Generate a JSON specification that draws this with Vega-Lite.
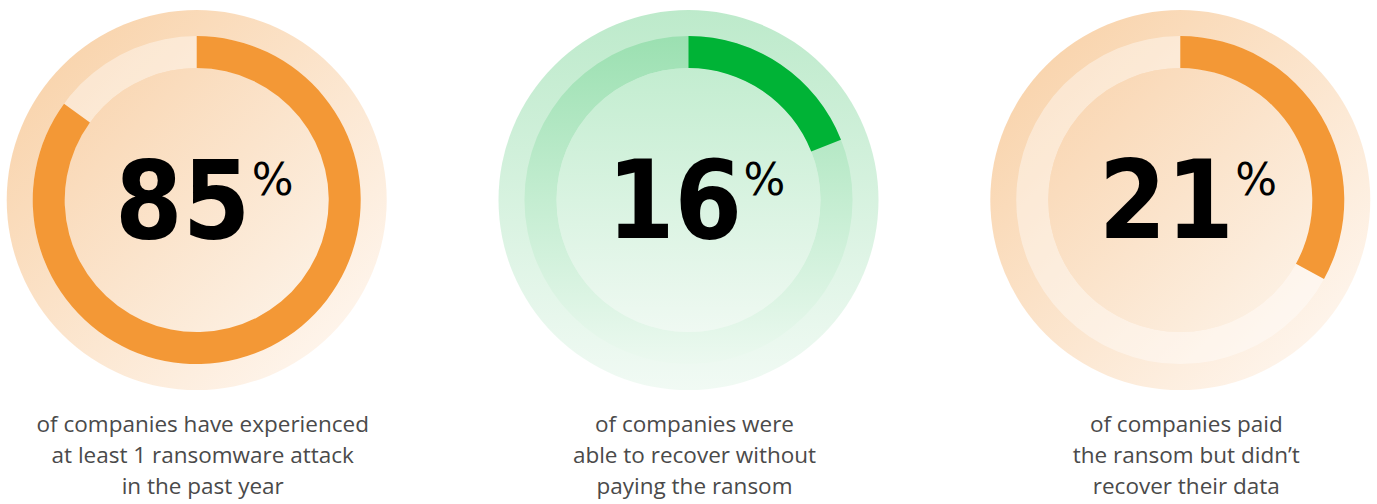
{
  "$schema": "https://vega.github.io/schema/vega-lite/v6.json",
  "autosize": {"type": "fit", "contains": "padding"},
  "width": 1377,
  "height": 504,
  "padding": 0,
  "background": "white",
  "config": {"view": {"stroke": null}},
  "data": {
    "values": [
      {"g": "a", "value": 85, "arcShown": 85, "palette": "orange", "caption": "of companies have experienced\nat least 1 ransomware attack\nin the past year"},
      {"g": "b", "value": 16, "arcShown": 19, "palette": "green", "caption": "of companies were\nable to recover without\npaying the ransom"},
      {"g": "c", "value": 21, "arcShown": 33, "palette": "orange", "caption": "of companies paid\nthe ransom but didn’t\nrecover their data"}
    ]
  },
  "encoding": {
    "x": {"field": "g", "type": "nominal", "scale": {"type": "point", "domain": ["a", "b", "c"], "padding": 0.4}, "axis": null},
    "y": {"datum": 39.7, "type": "quantitative", "scale": {"domain": [0, 100], "reverse": true, "nice": false, "zero": false}, "axis": null}
  },
  "layer": [
    {
      "transform": [{"filter": "datum.palette === 'orange'"}],
      "mark": {"type": "arc", "innerRadius": 0, "outerRadius": 190, "theta": 0, "theta2": 6.2832,
        "fill": {"gradient": "linear", "x1": 0, "y1": 0, "x2": 1, "y2": 1,
          "stops": [{"offset": 0, "color": "#f8cfa3"}, {"offset": 1, "color": "#fffaf6"}]}}
    },
    {
      "transform": [{"filter": "datum.palette === 'green'"}],
      "mark": {"type": "arc", "innerRadius": 0, "outerRadius": 190, "theta": 0, "theta2": 6.2832,
        "fill": {"gradient": "linear", "x1": 0, "y1": 0, "x2": 0, "y2": 1,
          "stops": [{"offset": 0, "color": "#bdeacb"}, {"offset": 1, "color": "#f1faf4"}]}}
    },
    {
      "transform": [{"filter": "datum.palette === 'orange'"}],
      "mark": {"type": "arc", "innerRadius": 132, "outerRadius": 164, "theta": 0, "theta2": 6.2832,
        "fill": "#ffffff", "fillOpacity": 0.4}
    },
    {
      "transform": [{"filter": "datum.palette === 'green'"}],
      "mark": {"type": "arc", "innerRadius": 132, "outerRadius": 164, "theta": 0, "theta2": 6.2832,
        "fill": {"gradient": "linear", "x1": 0, "y1": 0, "x2": 0, "y2": 1,
          "stops": [{"offset": 0, "color": "#9be0b1"}, {"offset": 0.5, "color": "#c4edd1"}, {"offset": 1, "color": "#ecf9f0"}]}}
    },
    {
      "transform": [{"filter": "datum.palette === 'orange'"}],
      "mark": {"type": "arc", "innerRadius": 0, "outerRadius": 132, "theta": 0, "theta2": 6.2832,
        "fill": {"gradient": "linear", "x1": 0, "y1": 0, "x2": 1, "y2": 1,
          "stops": [{"offset": 0, "color": "#f9d4ae"}, {"offset": 1, "color": "#fdf4ea"}]}}
    },
    {
      "transform": [{"filter": "datum.palette === 'green'"}],
      "mark": {"type": "arc", "innerRadius": 0, "outerRadius": 132, "theta": 0, "theta2": 6.2832,
        "fill": {"gradient": "linear", "x1": 0, "y1": 0, "x2": 0, "y2": 1,
          "stops": [{"offset": 0, "color": "#c3edd0"}, {"offset": 1, "color": "#eff9f2"}]}}
    },
    {
      "mark": {"type": "arc", "innerRadius": 132, "outerRadius": 164},
      "encoding": {
        "theta": {"field": "arcShown", "type": "quantitative", "stack": null, "scale": {"domain": [0, 100], "range": [0, 6.2832]}},
        "theta2": {"datum": 0},
        "color": {"field": "palette", "type": "nominal", "scale": {"domain": ["orange", "green"], "range": ["#f39836", "#00b336"]}, "legend": null}
      }
    },
    {
      "mark": {"type": "text", "align": "center", "baseline": "alphabetic", "dx": -14, "dy": 38, "font": "DejaVu Sans Condensed", "fontWeight": "bold", "fontSize": 108, "color": "#000000"},
      "encoding": {"text": {"field": "value", "type": "quantitative"}}
    },
    {
      "mark": {"type": "text", "text": "%", "align": "left", "baseline": "alphabetic", "dx": 55, "dy": -5, "font": "DejaVu Sans", "fontSize": 44, "color": "#000000"}
    },
    {
      "mark": {"type": "text", "align": "center", "baseline": "top", "lineBreak": "\n", "lineHeight": 31, "dx": 6, "font": "Open Sans", "fontSize": 22.5, "color": "#4a4a4a"},
      "encoding": {
        "y": {"datum": 82.2, "type": "quantitative"},
        "text": {"field": "caption"}
      }
    }
  ]
}
